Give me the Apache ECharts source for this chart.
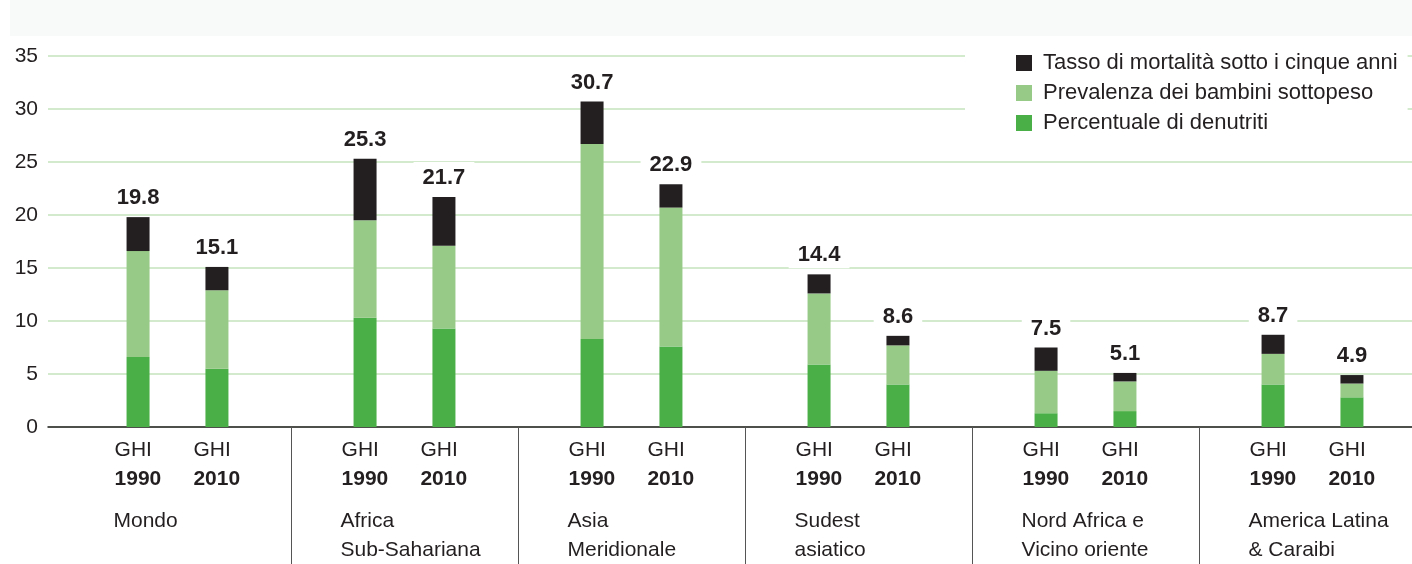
<!DOCTYPE html>
<html>
<head>
<meta charset="utf-8">
<script src="https://cdn.jsdelivr.net/npm/echarts@6/dist/echarts.min.js"></script>
<style>
	html, body { margin: 0; padding: 0; background: #fff; }
	#chart { width: 1412px; height: 564px; }
</style>
</head>
<body>
<div id="chart"></div>
<script>
	// dati
	var regions = ['Mondo', 'Africa\nSub-Sahariana', 'Asia\nMeridionale', 'Sudest\nasiatico', 'Nord Africa e\nVicino oriente', 'America Latina\n& Caraibi'];
	var denutriti1990 = [6.6, 10.3, 8.3, 5.9, 1.3, 4.0];
	var sottopeso1990 = [10.0, 9.2, 18.4, 6.7, 4.0, 2.9];
	var mortalita1990 = [3.2, 5.8, 4.0, 1.8, 2.2, 1.8];
	var totali1990 = [19.8, 25.3, 30.7, 14.4, 7.5, 8.7];
	var denutriti2010 = [5.5, 9.3, 7.6, 4.0, 1.5, 2.8];
	var sottopeso2010 = [7.4, 7.8, 13.1, 3.7, 2.8, 1.3];
	var mortalita2010 = [2.2, 4.6, 2.2, 0.9, 0.8, 0.8];
	var totali2010 = [15.1, 21.7, 22.9, 8.6, 5.1, 4.9];
	var anni = ['1990', '2010'];
	var yTicks = [0, 35, 5];

	var font = 'Liberation Sans, Arial, sans-serif';
	var nero = '#231f20';
	var verdeChiaro = '#97c987';
	var verdeScuro = '#4aaf46';

	function stackSeries(anno, den, sott, mort, tot) {
		var stack = 'y' + anno;
		return [{
			name: 'Percentuale di denutriti',
			type: 'bar',
			stack: stack,
			xAxisIndex: 1,
			yAxisIndex: 1,
			barWidth: 23,
			barGap: '243%',
			itemStyle: {color: verdeScuro},
			label: {
				show: true,
				position: 'bottom',
				distance: 9,
				formatter: '{a|GHI}\n{b|' + anno + '}',
				rich: {
					a: {fontFamily: font, fontSize: 21, color: nero, lineHeight: 29, width: 47, align: 'left'},
					b: {fontFamily: font, fontSize: 21, fontWeight: 'bold', color: nero, lineHeight: 29, width: 47, align: 'left'}
				}
			},
			data: den
		}, {
			name: 'Prevalenza dei bambini sottopeso',
			type: 'bar',
			stack: stack,
			xAxisIndex: 1,
			yAxisIndex: 1,
			barWidth: 23,
			barGap: '243%',
			itemStyle: {color: verdeChiaro},
			data: sott
		}, {
			name: 'Tasso di mortalità sotto i cinque anni',
			type: 'bar',
			stack: stack,
			xAxisIndex: 1,
			yAxisIndex: 1,
			barWidth: 23,
			barGap: '243%',
			itemStyle: {color: nero},
			label: {
				show: true,
				position: 'top',
				distance: 6,
				formatter: function(p) { return tot[p.dataIndex].toFixed(1); },
				fontFamily: font,
				fontSize: 22,
				fontWeight: 'bold',
				color: nero,
				backgroundColor: '#fff',
				padding: [5, 9, 2, 9]
			},
			data: mort
		}];
	}

	var myChart = echarts.init(document.getElementById('chart'));
	var option = {
		animation: false,
		textStyle: {fontFamily: font},
		graphic: [{
			type: 'rect',
			left: 10,
			top: 0,
			shape: {width: 1402, height: 36},
			style: {fill: '#f8f9f9'},
			silent: true
		}],
		legend: {
			orient: 'vertical',
			left: 965,
			top: 44,
			padding: [8, 10, 8, 51],
			backgroundColor: '#fff',
			itemWidth: 16,
			itemHeight: 16,
			itemGap: 8,
			icon: 'rect',
			data: ['Tasso di mortalità sotto i cinque anni', 'Prevalenza dei bambini sottopeso', 'Percentuale di denutriti'],
			textStyle: {fontFamily: font, fontSize: 22, color: nero, padding: [0, 0, 0, 6]}
		},
		grid: [
			{left: 48, right: 0, top: 56, bottom: 137, outerBoundsMode: 'none'},
			{left: 64, width: 1362, top: 56, bottom: 137, outerBoundsMode: 'none'}
		],
		xAxis: [{
			gridIndex: 0,
			type: 'value',
			min: 0,
			max: 1,
			axisLine: {show: true, onZero: false, lineStyle: {color: nero, width: 1.5}},
			axisTick: {show: false},
			axisLabel: {show: false},
			splitLine: {show: false}
		}, {
			gridIndex: 1,
			type: 'category',
			data: regions,
			axisLine: {show: false},
			axisTick: {
				show: true,
				length: 140,
				interval: function(index) { return index > 0; },
				lineStyle: {color: '#555', width: 1}
			},
			axisLabel: {
				interval: 0,
				margin: 80,
				align: 'center',
				formatter: function(v) {
					return v.split('\n').map(function(s) { return '{r|' + s + '}'; }).join('\n');
				},
				rich: {
					r: {fontFamily: font, fontSize: 21, color: nero, lineHeight: 29, width: 128, align: 'left'}
				}
			}
		}],
		yAxis: [{
			gridIndex: 0,
			type: 'value',
			min: yTicks[0],
			max: yTicks[1],
			interval: yTicks[2],
			axisLine: {show: false},
			axisTick: {show: false},
			axisLabel: {margin: 10, fontFamily: font, fontSize: 21, color: nero},
			splitLine: {lineStyle: {color: '#c5e3bb', width: 1.5}}
		}, {
			gridIndex: 1,
			type: 'value',
			min: yTicks[0],
			max: yTicks[1],
			interval: yTicks[2],
			show: false
		}],
		series: [].concat(
			stackSeries(anni[0], denutriti1990, sottopeso1990, mortalita1990, totali1990),
			stackSeries(anni[1], denutriti2010, sottopeso2010, mortalita2010, totali2010)
		)
	};
	myChart.setOption(option);
</script>
</body>
</html>
